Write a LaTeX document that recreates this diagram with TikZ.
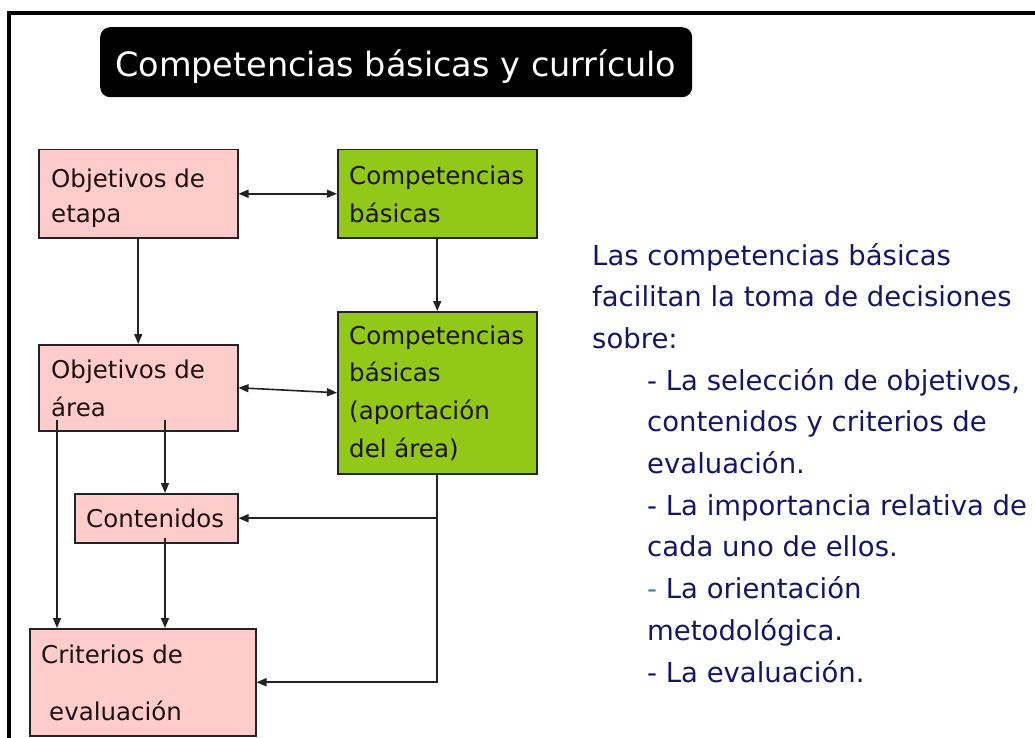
\documentclass[tikz,border=0pt]{standalone}
\usepackage{fontspec}
\setmainfont{DejaVu Sans}
\usetikzlibrary{arrows.meta}
\definecolor{pinkfill}{RGB}{255,204,204}
\definecolor{greenfill}{RGB}{146,200,24}
\definecolor{boxtext}{RGB}{30,18,18}
\definecolor{navy}{RGB}{22,22,105}
\definecolor{tealdash}{RGB}{60,140,140}
\definecolor{edge}{RGB}{35,35,35}
\newcommand{\lns}[2]{\vtop{\baselineskip=#1pt\lineskiplimit=-50pt #2}}
\tikzset{
 box/.style={draw=edge, line width=1.5pt, anchor=north west, inner sep=0pt},
 pinkbox/.style={box, fill=pinkfill},
 greenbox/.style={box, fill=greenfill},
 lbl/.style={anchor=base west, inner sep=0pt, text=boxtext, font=\fontsize{24.5pt}{36pt}\selectfont},
 desc/.style={anchor=base west, inner sep=0pt, text=navy, font=\fontsize{27.5pt}{41.7pt}\selectfont},
 arr/.style={draw=edge, line width=1.6pt, -{Triangle[length=10pt,width=8pt]}},
 dbl/.style={draw=edge, line width=1.6pt, {Triangle[length=10pt,width=8pt]}-{Triangle[length=10pt,width=8pt]}},
}
\begin{document}
\begin{tikzpicture}[x=1pt,y=-1pt]
\useasboundingbox (0,0) rectangle (1035,738);
\fill[white] (0,0) rectangle (1035,738);
% frame
\draw[line width=3.5pt] (9,738) -- (9,13) -- (1035,13);
% title
\node[fill=black, rounded corners=10pt, minimum width=592pt, minimum height=70pt, anchor=north west, inner sep=0pt] (titlebox) at (100,27) {};
\node[anchor=base west, inner sep=0pt, text=white, font=\fontsize{33.5pt}{40pt}\selectfont] (title) at (115,77) {Competencias básicas y currículo};
% boxes
\node[pinkbox, minimum width=199pt, minimum height=88pt] (etapa) at (38,149) {};
\node[greenbox, minimum width=199pt, minimum height=88pt] (comp) at (337,149) {};
\node[pinkbox, minimum width=199pt, minimum height=86pt] (area) at (38,344) {};
\node[greenbox, minimum width=199pt, minimum height=162pt] (comparea) at (337,311) {};
\node[pinkbox, minimum width=163pt, minimum height=49pt] (cont) at (74,493) {};
\node[pinkbox, minimum width=226pt, minimum height=107pt] (crit) at (29,628) {};
% connectors
\draw[dbl] (etapa.east) -- (comp.west);
\draw[arr] (etapa.south) -- (area.north);
\draw[arr] (comp.south) -- (comparea.north);
\draw[dbl] (area.east) -- (comparea.west);
\coordinate (a1) at (57,420);
\coordinate (a2) at (165,420);
\coordinate (c1) at (165,538);
\draw[arr] (a1) -- (a1 |- crit.north);
\draw[arr] (a2) -- (a2 |- cont.north);
\draw[arr] (c1) -- (c1 |- crit.north);
\draw[arr] (comparea.south) |- (cont.east);
\draw[arr] (comparea.south) |- (crit.east);
% box texts
\node[lbl] (etapa-t) at (51,187) {\lns{35.5}{\hbox{Objetivos de}\hbox{etapa}}};
\node[lbl] (comp-t) at (349,185) {\lns{37}{\hbox{Competencias}\hbox{básicas}}};
\node[lbl] (area-t) at (51,378) {\lns{38}{\hbox{Objetivos de}\hbox{área}}};
\node[lbl] (comparea-t) at (349,344) {\lns{37.7}{\hbox{Competencias}\hbox{básicas}\hbox{(aportación}\hbox{del área)}}};
\node[lbl] (cont-t) at (86,527) {Contenidos};
\node[lbl] (crit-t) at (41,663) {\lns{57}{\hbox{Criterios de}\hbox{\kern8pt evaluación}}};
% description
\node[desc] (desc) at (592,265) {\lns{41.7}{%
\hbox{Las competencias básicas}%
\hbox{facilitan la toma de decisiones}%
\hbox{sobre:}%
\hbox{\kern55pt- La selección de objetivos,}%
\hbox{\kern55pt contenidos y criterios de}%
\hbox{\kern55pt evaluación.}%
\hbox{\kern55pt- La importancia relativa de}%
\hbox{\kern55pt cada uno de ellos.}%
\hbox{\kern55pt\textcolor{tealdash}{-} La orientación}%
\hbox{\kern55pt metodológica.}%
\hbox{\kern55pt- La evaluación.}}};
\end{tikzpicture}
\end{document}
